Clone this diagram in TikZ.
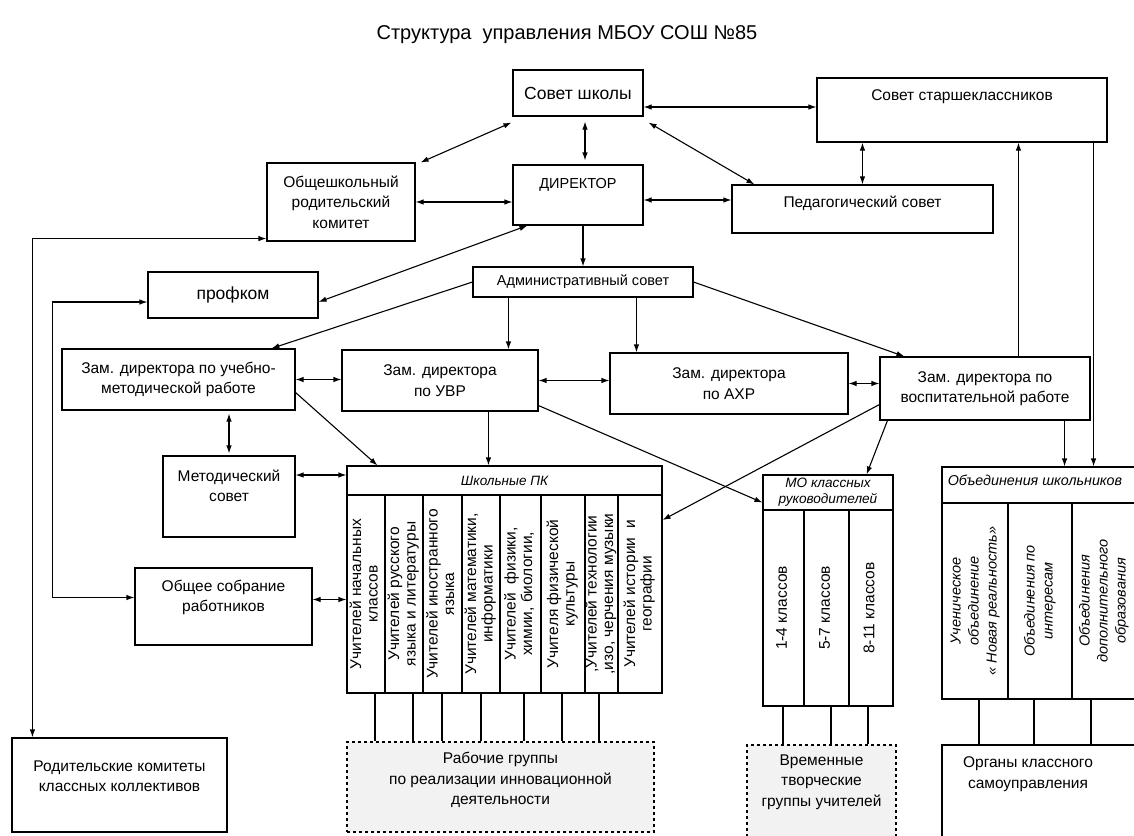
\documentclass[tikz,border=0pt]{standalone}
\usepackage{fontspec}
\setmainfont{Liberation Sans}
\usetikzlibrary{arrows.meta}
\newcommand\myfont{\fontsize{15.5}{20.5}\selectfont}
\newcommand\colfont{\fontsize{15.5}{16.5}\selectfont}
\newcommand\rt[1]{\rotatebox{90}{\begin{tabular}{@{}c@{}}#1\end{tabular}}}
\begin{document}
\begin{tikzpicture}[x=1pt,y=-1pt,
  bx/.style={draw, line width=1.1pt, inner sep=0pt, align=center, font=\myfont},
  lb/.style={align=center, inner sep=0pt, font=\myfont},
  col/.style={draw, line width=1.1pt, inner sep=0pt, font=\colfont},
  dbox/.style={draw, dashed, line width=1.1pt, fill=black!5, inner sep=0pt},
  ln/.style={line width=1.1pt},
  dbl/.style={line width=1.1pt, {Latex[length=8pt,width=5.5pt]}-{Latex[length=8pt,width=5.5pt]}},
  one/.style={line width=1.1pt, -{Latex[length=8pt,width=5.5pt]}}]
\useasboundingbox (0,0) rectangle (1134,835);
\fill[white] (0,0) rectangle (1134,835);

\node[font=\fontsize{20}{24}\selectfont] (title) at (567,35) {Структура\ \ управления МБОУ СОШ №85};

\node[bx, minimum width=130pt, minimum height=46pt, font=\fontsize{17.5}{20}\selectfont] (sovet) at (578,93) {Совет школы};
\node[bx, minimum width=290pt, minimum height=64pt, label={[lb,yshift=13pt]center:Совет старшеклассников}] (starsh) at (962,110) {};
\node[bx, minimum width=148pt, minimum height=78pt] (obsh) at (341,202) {Общешкольный\\родительский\\комитет};
\node[bx, minimum width=130pt, minimum height=60pt, label={[lb,font=\fontsize{14.5}{20}\selectfont,yshift=10pt]center:ДИРЕКТОР}] (dir) at (578,195) {};
\node[bx, minimum width=261pt, minimum height=48pt, label={[lb,yshift=6pt]center:Педагогический совет}] (ped) at (862.5,209) {};
\node[bx, minimum width=220pt, minimum height=30pt, font=\fontsize{14.5}{20}\selectfont] (adm) at (583,282) {Административный совет};
\node[bx, minimum width=170pt, minimum height=46pt, font=\fontsize{17.5}{20}\selectfont] (prof) at (233,295) {профком};

\node[bx, minimum width=233pt, minimum height=61pt] (umr) at (178.5,379.5) {Зам. директора по учебно-\\методической работе};
\node[bx, minimum width=196pt, minimum height=61pt] (uvr) at (440,380.5) {Зам. директора\\по УВР};
\node[bx, minimum width=238pt, minimum height=61pt] (axr) at (729,383.5) {Зам. директора\\по АХР};
\node[bx, minimum width=210pt, minimum height=63pt] (vr) at (985,388.5) {Зам. директора по\\воспитательной работе};

\node[bx, minimum width=132pt, minimum height=81pt, label={[lb,yshift=10.5pt]center:Методический\\совет}] (met) at (229,496.5) {};
\node[bx, minimum width=177pt, minimum height=77pt, label={[lb,yshift=9pt]center:Общее собрание\\работников}] (oss) at (223.5,606.5) {};
\node[bx, minimum width=215pt, minimum height=94pt, label={[lb,yshift=9pt]center:Родительские комитеты\\классных коллективов}] (rod) at (119.5,785) {};

% Школьные ПК
\node[bx, minimum width=315pt, minimum height=29pt, font=\itshape\fontsize{13.5}{16}\selectfont] (pkh) at (504.5,480.5) {Школьные ПК};
\node[col, minimum width=38pt, minimum height=198pt] (pk1) at (366,594) {\rt{Учителей начальных\\классов}};
\node[col, minimum width=38pt, minimum height=198pt] (pk2) at (404,594) {\rt{Учителей русского\\языка и литературы}};
\node[col, minimum width=39pt, minimum height=198pt] (pk3) at (442.5,594) {\rt{Учителей иностранного\\языка}};
\node[col, minimum width=38pt, minimum height=198pt] (pk4) at (481,594) {\rt{Учителей математики,\\информатики}};
\node[col, minimum width=41pt, minimum height=198pt] (pk5) at (520.5,594) {\rt{Учителей\ \ физики,\\химии, биологии,}};
\node[col, minimum width=44pt, minimum height=198pt] (pk6) at (563,594) {\rt{Учителя физической\\культуры}};
\node[col, minimum width=33pt, minimum height=198pt] (pk7) at (601.5,594) {\rt{,Учителей технологии\\,изо, черчения музыки}};
\node[col, minimum width=44pt, minimum height=198pt] (pk8) at (640,594) {\rt{Учителей истории\ \ и\\географии}};

% МО классных руководителей
\node[bx, minimum width=130pt, minimum height=35pt, font=\itshape\fontsize{13.6}{16}\selectfont] (moh) at (828,492.5) {МО классных\\руководителей};
\node[col, minimum width=41pt, minimum height=196pt] (mo1) at (783.5,608) {\rt{1-4 классов}};
\node[col, minimum width=45pt, minimum height=196pt] (mo2) at (826.5,608) {\rt{5-7 классов}};
\node[col, minimum width=44pt, minimum height=196pt] (mo3) at (871,608) {\rt{8-11 классов}};

% Объединения школьников
\node[bx, minimum width=194pt, minimum height=36pt, label={[lb,font=\itshape\fontsize{14.3}{16}\selectfont,xshift=-4pt,yshift=5pt]center:Объединения школьников}] (obh) at (1039,485) {};
\node[col, minimum width=66pt, minimum height=196pt, font=\itshape\fontsize{14.5}{18}\selectfont] (ob1) at (975,601) {\rt{Ученическое\\объединение\\« Новая реальность»}};
\node[col, minimum width=64pt, minimum height=196pt, font=\itshape\fontsize{14.5}{18}\selectfont] (ob2) at (1040,601) {\rt{Объединения по\\интересам}};
\node[col, minimum width=64pt, minimum height=196pt, font=\itshape\fontsize{14.5}{18}\selectfont] (ob3) at (1104,601) {\rt{Объединения\\дополнительного\\образования}};

% bottom boxes
\node[dbox, minimum width=307pt, minimum height=90pt, label={[lb,yshift=7pt]center:Рабочие группы\\по реализации инновационной\\деятельности}] (rg) at (500.5,787) {};
\node[dbox, minimum width=149pt, minimum height=93pt, label={[lb,yshift=9.5pt]center:Временные\\творческие\\группы учителей}] (vg) at (821.5,791.5) {};
\node[bx, minimum width=194pt, minimum height=93pt, label={[lb,xshift=-11pt,yshift=17.5pt]center:Органы классного\\самоуправления}] (org) at (1039,791.5) {};

% column links
\foreach \x in {375,413,442,481,524,562,599} \draw[ln] (\x,0 |- pk1.south) -- (\x,0 |- rg.north);
\foreach \x in {783,831,868} \draw[ln] (\x,0 |- mo1.south) -- (\x,0 |- vg.north);
\foreach \x in {979,1034,1091} \draw[ln] (\x,0 |- ob1.south) -- (\x,0 |- org.north);

% connectors
\draw[dbl] ([yshift=-14pt]sovet.east) -- ([yshift=-14pt]sovet.east -| starsh.west);
\draw[dbl, shorten <=5pt, shorten >=4pt] ([xshift=7pt]sovet.south) -- ([xshift=7pt]dir.north);
\draw[dbl] ([shift={(-1pt,-6pt)}]sovet.south west) -- ([xshift=5pt]obsh.north east);
\draw[dbl] ([shift={(5pt,-6pt)}]sovet.south east) -- ([xshift=23pt]ped.north west);
\draw[dbl] ([xshift=46pt]starsh.south west) -- ([xshift=46pt]starsh.south west |- ped.north);
\draw[dbl] (obsh.east) -- (obsh.east -| dir.west);
\draw[dbl] ([yshift=9pt]ped.west -| dir.east) -- ([yshift=9pt]ped.west);
\draw[one] (adm.north |- dir.south) -- (adm.north);
\draw[dbl] ([yshift=-7pt]prof.east) -- ([xshift=15pt]dir.south west);
\draw[one] (adm.west) -- ([xshift=210pt]umr.north west);
\draw[one] ([xshift=36pt]adm.south west) -- ([xshift=36pt]adm.south west |- uvr.north);
\draw[one] ([xshift=164pt]adm.south west) -- ([xshift=164pt]adm.south west |- axr.north);
\draw[one] (adm.east) -- ([xshift=25pt]vr.north west);
\draw[dbl] (umr.east) -- (umr.east -| uvr.west);
\draw[dbl] (uvr.east) -- (uvr.east -| axr.west);
\draw[dbl] (axr.east) -- (axr.east -| vr.west);
\draw[dbl, shorten <=3pt, shorten >=2pt] (met.north |- umr.south) -- (met.north);
\draw[one] ([yshift=-13pt]umr.east) -- ([xshift=31pt]pkh.north west);
\draw[dbl] ([yshift=21.5pt]met.east) -- ([yshift=21.5pt]met.east -| pkh.west);
\draw[dbl] ([yshift=7pt]oss.east) -- ([yshift=7pt]oss.east -| pk1.west);
\draw[one] ([xshift=147pt]uvr.south west) -- ([xshift=147pt]uvr.south west |- pkh.north);
\draw[one] ([yshift=6pt]uvr.south east) -- ([yshift=8pt]moh.south west);
\draw[one] ([yshift=-16pt]vr.west) -- ([yshift=74pt]pk8.east);
\draw[one] ([xshift=8pt]vr.south west) -- ([xshift=-27pt]moh.north east);
\draw[one] ([xshift=-26pt]vr.south east) -- ([xshift=-26pt]vr.south east |- obh.north);
\draw[one] ([xshift=-14pt]starsh.south east) -- ([xshift=-14pt]starsh.south east |- obh.north);
\draw[one] ([xshift=139pt]vr.north west) -- ([xshift=139pt]vr.north west |- starsh.south);
\draw[dbl] ([yshift=3pt]obsh.south west) -| ([xshift=21pt]rod.north west);
\draw[dbl] ([yshift=-7pt]prof.west) -- ++(-95pt,0pt) |- ([yshift=9pt]oss.west);
\end{tikzpicture}
\end{document}
